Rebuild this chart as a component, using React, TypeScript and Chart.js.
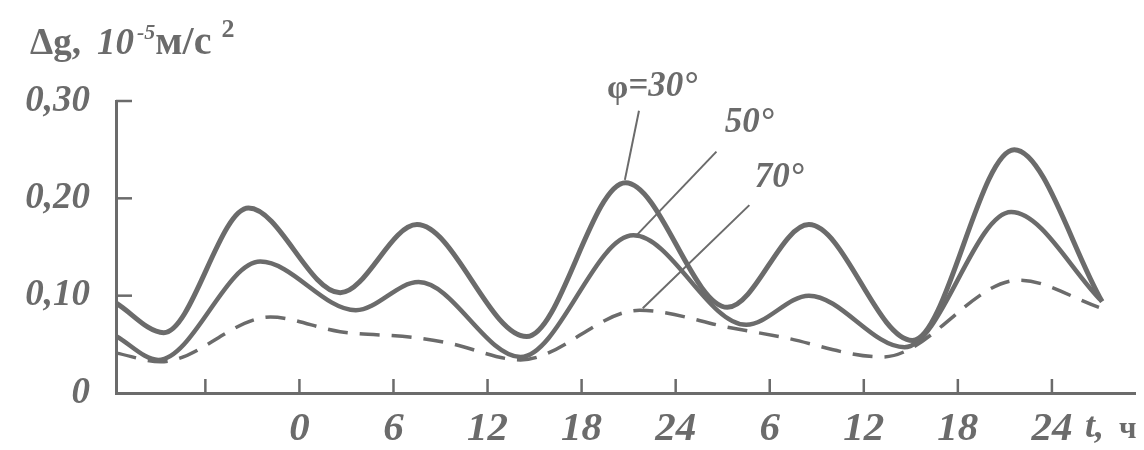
import React, { useEffect, useRef } from 'react';
import { Chart, registerables } from 'chart.js';

Chart.register(...registerables);

// time axis (hours, continuous); tick labels wrap at 24 h
const xTickValues = [-6, 0, 6, 12, 18, 24, 30, 36, 42, 48];
const xTickLabels = ['', '0', '6', '12', '18', '24', '6', '12', '18', '24'];
const yTickValues = [0, 0.1, 0.2, 0.3];
const yTickLabels = ['0', '0,10', '0,20', '0,30'];

// φ = 30°
const t30 = [-11.66, -8.66, -3.25, 2.6, 7.5, 14.5, 20.8, 27.3, 32.5, 39.1, 45.6, 51.2];
const g30 = [0.092, 0.062, 0.19, 0.103, 0.173, 0.058, 0.216, 0.088, 0.173, 0.054, 0.25, 0.094];
// φ = 50°
const t50 = [-11.66, -9.0, -2.5, 3.6, 7.6, 14.1, 21.3, 28.5, 32.5, 38.6, 45.4, 51.2];
const g50 = [0.058, 0.034, 0.135, 0.085, 0.114, 0.037, 0.162, 0.07, 0.1, 0.047, 0.186, 0.094];
// φ = 70°
const t70 = [-11.66, -8.85, -1.85, 2.6, 7.3, 9.6, 14.1, 21.7, 27.5, 30.6, 37.2, 45.9, 51.0];
const g70 = [0.041, 0.032, 0.078, 0.063, 0.057, 0.051, 0.034, 0.085, 0.067, 0.058, 0.037, 0.116, 0.088];

// curve labels (prefix upright, rest italic) and leader lines, in data units
const labelPrefix = ['φ', '', ''];
const labelTexts = ['=30°', '50°', '70°'];
const labelX = [22.5, 28.7, 30.6];
const labelY = [0.3145, 0.277, 0.221];
const leaderFromX = [21.66, 26.6, 28.7];
const leaderFromY = [0.29, 0.248, 0.193];
const leaderToX = [20.76, 21.5, 21.9];
const leaderToY = [0.219, 0.162, 0.087];

const INK = '#6b6b6b';
const FONT = '"Liberation Serif", "Times New Roman", serif';

const zip = (xs: number[], ys: number[]) => xs.map((x, i) => ({ x, y: ys[i] }));

const decorPlugin = {
  id: 'decor',
  afterDatasetsDraw(chart: any) {
    const { ctx, chartArea, scales } = chart;
    const x = scales.x;
    const y = scales.y;
    ctx.save();
    ctx.strokeStyle = INK;
    ctx.fillStyle = INK;
    ctx.lineWidth = 2.5;
    // inward tick marks
    xTickValues.forEach((v) => {
      const px = x.getPixelForValue(v);
      ctx.beginPath();
      ctx.moveTo(px, chartArea.bottom);
      ctx.lineTo(px, chartArea.bottom - 14);
      ctx.stroke();
    });
    yTickValues.forEach((v) => {
      if (v === 0) return;
      const py = y.getPixelForValue(v);
      ctx.beginPath();
      ctx.moveTo(chartArea.left, py);
      ctx.lineTo(chartArea.left + 16, py);
      ctx.stroke();
    });
    // leaders and curve labels
    ctx.lineWidth = 2;
    labelTexts.forEach((txt, i) => {
      ctx.beginPath();
      ctx.moveTo(x.getPixelForValue(leaderFromX[i]), y.getPixelForValue(leaderFromY[i]));
      ctx.lineTo(x.getPixelForValue(leaderToX[i]), y.getPixelForValue(leaderToY[i]));
      ctx.stroke();
      const fPre = `bold 34px ${FONT}`;
      const fTxt = `italic bold 35px ${FONT}`;
      ctx.font = fPre;
      const wPre = ctx.measureText(labelPrefix[i]).width;
      ctx.font = fTxt;
      const wTxt = ctx.measureText(txt).width;
      let lx = x.getPixelForValue(labelX[i]) - (wPre + wTxt) / 2;
      const ly = y.getPixelForValue(labelY[i]);
      ctx.textAlign = 'left';
      ctx.textBaseline = 'middle';
      ctx.font = fPre;
      ctx.fillText(labelPrefix[i], lx, ly + 2);
      lx += wPre;
      ctx.font = fTxt;
      ctx.fillText(txt, lx, ly);
    });
    // y-axis title at top-left
    ctx.textAlign = 'left';
    ctx.textBaseline = 'alphabetic';
    let cx = 30;
    const base = 54;
    const part = (s: string, font: string, dy = 0, gap = 0) => {
      ctx.font = font;
      ctx.fillText(s, cx, base + dy);
      cx += ctx.measureText(s).width + gap;
    };
    part('Δg,', `bold 37px ${FONT}`, 0, 16);
    part('10', `italic bold 37px ${FONT}`, 0, 3);
    part('-5', `italic bold 22px ${FONT}`, -15);
    part('м/с', `bold 40px ${FONT}`, 0, 10);
    part('2', `bold 26px ${FONT}`, -17);
    // x-axis title
    ctx.font = `italic bold 36px ${FONT}`;
    ctx.textAlign = 'left';
    ctx.textBaseline = 'middle';
    ctx.fillText('t,', 1085, 428);
    ctx.font = `bold 31px ${FONT}`;
    ctx.fillText('ч', 1119, 430);
    ctx.restore();
  },
};

export default function App() {
  const ref = useRef<HTMLCanvasElement | null>(null);

  useEffect(() => {
    if (!ref.current) return;
    const common = {
      borderColor: INK,
      backgroundColor: INK,
      pointRadius: 0,
      fill: false,
      cubicInterpolationMode: 'monotone' as const,
    };
    const chart = new Chart(ref.current, {
      type: 'line',
      data: {
        datasets: [
          { ...common, label: 'φ=30°', data: zip(t30, g30), borderWidth: 5 },
          { ...common, label: '50°', data: zip(t50, g50), borderWidth: 4.5 },
          { ...common, label: '70°', data: zip(t70, g70), borderWidth: 3.5, borderDash: [20, 12] },
        ],
      },
      options: {
        animation: false,
        responsive: false,
        maintainAspectRatio: false,
        layout: { padding: { left: 0, right: 9, top: 101, bottom: 0 } },
        plugins: { legend: { display: false }, tooltip: { enabled: false } },
        scales: {
          x: {
            type: 'linear',
            min: -11.7,
            max: 53.3,
            grid: { display: false, drawTicks: false },
            border: { display: true, color: INK, width: 3 },
            afterBuildTicks: (s: any) => {
              s.ticks = xTickValues.map((v) => ({ value: v }));
            },
            afterFit: (s: any) => {
              s.height = 57;
            },
            ticks: {
              autoSkip: false,
              maxRotation: 0,
              padding: 12,
              color: INK,
              font: { family: FONT, size: 41, style: 'italic', weight: 'bold' },
              callback: (v: any) => {
                const i = xTickValues.indexOf(Number(v));
                return i >= 0 ? xTickLabels[i] : '';
              },
            },
          },
          y: {
            type: 'linear',
            min: 0,
            max: 0.3,
            grid: { display: false, drawTicks: false },
            border: { display: true, color: INK, width: 3 },
            afterBuildTicks: (s: any) => {
              s.ticks = yTickValues.map((v) => ({ value: v }));
            },
            afterFit: (s: any) => {
              s.width = 116;
            },
            ticks: {
              padding: 26,
              color: INK,
              font: { family: FONT, size: 37, style: 'italic', weight: 'bold' },
              callback: (v: any) => {
                const i = yTickValues.findIndex((t) => Math.abs(t - Number(v)) < 1e-9);
                return i >= 0 ? yTickLabels[i] : '';
              },
            },
          },
        },
      },
      plugins: [decorPlugin],
    });
    return () => chart.destroy();
  }, []);

  return (
    <div style={{ position: 'fixed', left: 0, top: 0, width: 1144, height: 450, background: '#fff' }}>
      <canvas ref={ref} width={1144} height={450} style={{ width: 1144, height: 450 }} />
    </div>
  );
}
